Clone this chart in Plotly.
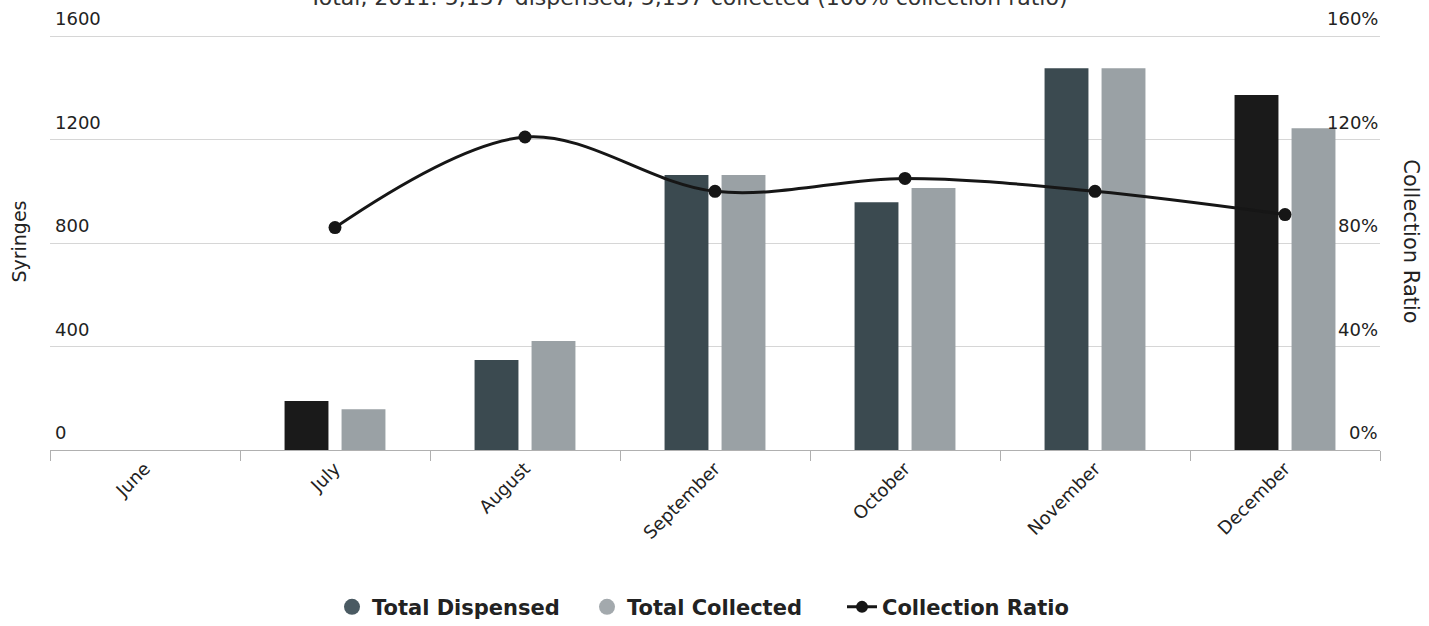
import plotly.graph_objects as go

months = ["June", "July", "August", "September", "October", "November", "December"]
dispensed = [None, 189, 348, 1063, 958, 1476, 1372]
collected = [None, 158, 421, 1063, 1013, 1476, 1244]
ratio = [None, 86, 121, 100, 105, 100, 91]
dispensed_colors = ["#3b4a50", "#1a1a1a", "#3b4a50", "#3b4a50", "#3b4a50", "#3b4a50", "#1a1a1a"]
left_ticks = [0, 400, 800, 1200, 1600]
right_ticks = [0, 40, 80, 120, 160]
title_text = "Total, 2011: 5,157 dispensed, 5,157 collected (100% collection ratio)"

FONT = "DejaVu Sans"
TXT = "#222222"
fig = go.Figure()
fig.add_trace(go.Bar(x=months, y=dispensed, name="Total Dispensed",
                     marker=dict(color=dispensed_colors, line=dict(width=0)),
                     showlegend=False))
fig.add_trace(go.Bar(x=months, y=collected, name="Total Collected",
                     marker=dict(color="#9aa1a5", line=dict(width=0)),
                     showlegend=False))
fig.add_trace(go.Scatter(x=months, y=ratio, name="Collection Ratio", yaxis="y2",
                         mode="lines+markers", line=dict(color="#161616", width=3, shape="spline", smoothing=1),
                         marker=dict(color="#161616", size=13), showlegend=False))
# legend entries
fig.add_trace(go.Scatter(x=[None], y=[None], mode="markers", name="Total Dispensed",
                         marker=dict(color="#4a5a62", size=18, symbol="circle")))
fig.add_trace(go.Scatter(x=[None], y=[None], mode="markers", name="Total Collected",
                         marker=dict(color="#a3a9ad", size=18, symbol="circle")))
fig.add_trace(go.Scatter(x=[None], y=[None], mode="lines+markers", name="Collection Ratio",
                         line=dict(color="#161616", width=3), marker=dict(color="#161616", size=12)))

annotations = []
for v in left_ticks:
    annotations.append(dict(text=str(v), xref="paper", yref="y", x=0.002, y=v,
                            xanchor="left", yanchor="bottom", yshift=5, showarrow=False,
                            font=dict(size=18, color=TXT)))
for v in right_ticks:
    annotations.append(dict(text=f"{v}%", xref="paper", yref="y2", x=1.0, y=v,
                            xanchor="right", yanchor="bottom", yshift=5, showarrow=False,
                            font=dict(size=18, color=TXT)))
annotations += [
    dict(text="Syringes", textangle=-90, xref="paper", yref="paper",
         x=-0.024, y=0.5, xanchor="center", yanchor="middle", showarrow=False,
         font=dict(size=19, color=TXT)),
    dict(text="Collection Ratio", textangle=90, xref="paper", yref="paper",
         x=1.0235, y=0.5, xanchor="center", yanchor="middle", showarrow=False,
         font=dict(size=21, color=TXT)),
    dict(text=title_text, xref="paper", yref="paper", x=0.48, y=1.084,
         xanchor="center", yanchor="middle", showarrow=False,
         font=dict(size=22, color="#333")),
]

fig.update_layout(
    width=1429, height=626,
    margin=dict(l=50, r=49, t=33, b=176),
    paper_bgcolor="white", plot_bgcolor="white",
    font=dict(family=FONT, color=TXT, size=17),
    barmode="group", bargap=0.4, bargroupgap=0.23,
    xaxis=dict(type="category", tickangle=-45, showgrid=False, showline=True,
               linecolor="#b0b0b0", linewidth=1, ticks="outside", tickson="boundaries",
               ticklen=10, tickcolor="#b0b0b0", tickfont=dict(size=18, color=TXT),
               range=[-0.5, 6.5], automargin=False),
    yaxis=dict(range=[0, 1612], tickvals=left_ticks, showgrid=True, gridcolor="#d6d6d6",
               gridwidth=1, zeroline=False, showline=False, showticklabels=False,
               automargin=False),
    yaxis2=dict(range=[0, 161.2], tickvals=right_ticks, overlaying="y",
                side="right", showgrid=False, zeroline=False, showline=False,
                showticklabels=False, automargin=False),
    legend=dict(orientation="h", x=0.5, xanchor="center", xref="container",
                y=0.03, yanchor="middle", yref="container", entrywidth=210,
                font=dict(size=21, color=TXT, weight="bold"), itemsizing="trace"),
    annotations=annotations,
)

fig.write_html("out.html")
